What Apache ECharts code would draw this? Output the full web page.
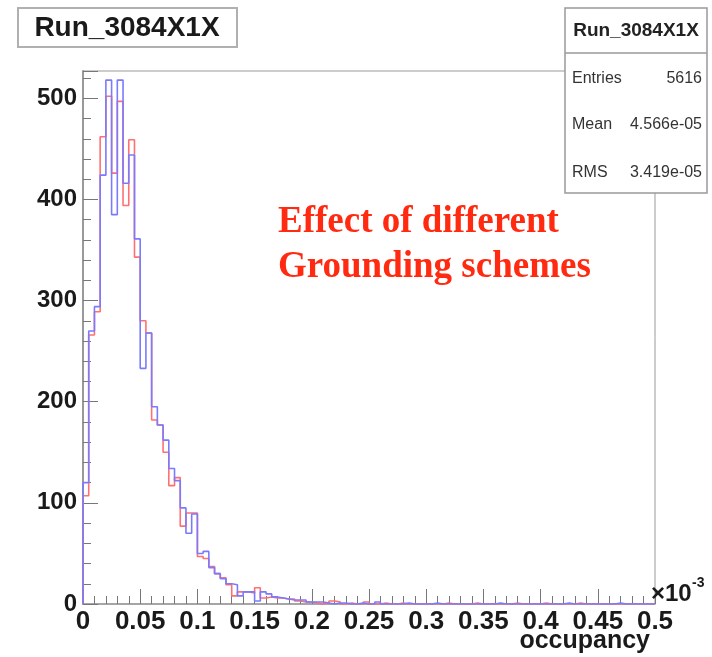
<!DOCTYPE html>
<html>
<head>
<meta charset="utf-8">
<script src="https://cdn.jsdelivr.net/npm/echarts@6/dist/echarts.min.js"></script>
<style>
  html, body { margin: 0; padding: 0; background: #fff; }
  #main { width: 712px; height: 657px; }
</style>
</head>
<body>
<div id="main"></div>
<script>
// occupancy histogram, 100 bins of 0.005 (x10^-3) from 0 to 0.5
var binWidth = 0.005;
var xTicks = [0, 0.05, 0.1, 0.15, 0.2, 0.25, 0.3, 0.35, 0.4, 0.45, 0.5];
var redCounts = [107, 266, 289, 462, 502, 426, 497, 394, 459, 343,
  280, 268, 182, 177, 150, 117, 125, 77, 90, 90,
  47, 45, 37, 30, 26, 19, 8, 12, 12, 11,
  16, 6, 7, 6, 6, 5, 5, 3, 2, 2,
  1, 0, 1, 3, 2, 0, 1, 0, 0, 2,
  0, 0, 1, 0, 0, 1, 0, 0, 0, 0,
  0, 0, 0, 1, 0, 0, 0, 0, 1, 0,
  0, 0, 0, 0, 0, 1, 0, 0, 0, 0,
  1, 0, 0, 0, 0, 0, 1, 0, 0, 0,
  0, 0, 0, 0, 0, 0, 0, 0, 0, 0];
var blueCounts = [120, 270, 294, 424, 518, 385, 518, 416, 444, 361,
  233, 268, 195, 177, 162, 134, 122, 95, 70, 89,
  50, 52, 36, 30, 25, 20, 19, 8, 12, 12,
  3, 12, 10, 7, 6, 5, 4, 4, 4, 2,
  2, 2, 1, 0, 1, 1, 0, 0, 1, 0,
  0, 2, 0, 0, 0, 0, 1, 0, 0, 0,
  0, 1, 0, 0, 0, 0, 0, 0, 0, 0,
  0, 0, 1, 0, 0, 0, 0, 0, 0, 0,
  0, 0, 0, 0, 1, 0, 0, 0, 0, 0,
  0, 0, 0, 1, 0, 0, 0, 0, 0, 0];
var statLabels = ['Entries', 'Mean', 'RMS'];
var statValues = ['5616', '4.566e-05', '3.419e-05'];

function toSteps(counts) {
  var pts = [[0, 0]];
  for (var i = 0; i < counts.length; i++) {
    pts.push([+(i * binWidth).toFixed(3), counts[i]]);
  }
  pts.push([xTicks[xTicks.length - 1], counts[counts.length - 1]]);
  return pts;
}

var chart = echarts.init(document.getElementById('main'));
var font = 'Liberation Sans, Arial, sans-serif';

var graphics = [
  // title box
  { type: 'rect', shape: { x: 18, y: 8, width: 219, height: 39 },
    style: { fill: '#fff', stroke: '#b0b0b0', lineWidth: 2 }, z: 10 },
  { type: 'text', x: 127, y: 28, z: 11,
    style: { text: 'Run_3084X1X', font: 'bold 28px ' + font, fill: '#1a1a1a', textAlign: 'center', textVerticalAlign: 'middle' } },
  // stats box
  { type: 'rect', shape: { x: 565, y: 8, width: 142, height: 185 },
    style: { fill: '#fff', stroke: '#999', lineWidth: 1.5 }, z: 10 },
  { type: 'line', shape: { x1: 565, y1: 53, x2: 707, y2: 53 },
    style: { stroke: '#999', lineWidth: 1.5 }, z: 11 },
  { type: 'text', x: 636, y: 31, z: 11,
    style: { text: 'Run_3084X1X', font: 'bold 19px ' + font, fill: '#222', textAlign: 'center', textVerticalAlign: 'middle' } },
  // annotation
  { type: 'text', x: 278, y: 200, z: 11,
    style: { text: 'Effect of different\nGrounding schemes', font: 'bold 37px Liberation Serif, Times New Roman, serif',
      fill: '#ff2a10', lineHeight: 45, textAlign: 'left', textVerticalAlign: 'top' } },
  // exponent label
  { type: 'text', x: 651, y: 594, z: 11,
    style: { text: '\u00d710', font: 'bold 24px ' + font, fill: '#1a1a1a', textAlign: 'left', textVerticalAlign: 'middle' } },
  { type: 'text', x: 692, y: 583, z: 11,
    style: { text: '-3', font: 'bold 14px ' + font, fill: '#1a1a1a', textAlign: 'left', textVerticalAlign: 'middle' } },
  // axis title
  { type: 'text', x: 650, y: 641, z: 11,
    style: { text: 'occupancy', font: 'bold 25px ' + font, fill: '#1a1a1a', textAlign: 'right', textVerticalAlign: 'middle' } }
];
var statY = [79, 125, 173];
statLabels.forEach(function (l, i) {
  graphics.push({ type: 'text', x: 572, y: statY[i], z: 11,
    style: { text: l, font: '16px ' + font, fill: '#333', textAlign: 'left', textVerticalAlign: 'middle' } });
  graphics.push({ type: 'text', x: 702, y: statY[i], z: 11,
    style: { text: statValues[i], font: '16px ' + font, fill: '#333', textAlign: 'right', textVerticalAlign: 'middle' } });
});

var option = {
  animation: false,
  backgroundColor: '#fff',
  grid: { left: 83, top: 71, width: 572, height: 533, show: true, borderColor: '#999', borderWidth: 1, backgroundColor: 'transparent' },
  xAxis: {
    type: 'value', min: 0, max: 0.5, interval: 0.05,
    axisLine: { show: true, lineStyle: { color: '#999', width: 1.5 } },
    axisTick: { show: true, inside: true, length: 15, lineStyle: { color: '#777' } },
    minorTick: { show: true, splitNumber: 5, length: 8, lineStyle: { color: '#777' } },
    splitLine: { show: false },
    axisLabel: { fontSize: 26, fontWeight: 'bold', color: '#1a1a1a', fontFamily: font, margin: 5,
      formatter: function (v) { return String(+v.toFixed(2)); } }
  },
  yAxis: [{
    type: 'value', min: 0, max: 527, interval: 100,
    axisLine: { show: true, lineStyle: { color: '#999', width: 2 } },
    axisTick: { show: true, inside: true, length: 15, lineStyle: { color: '#777' } },
    splitLine: { show: false },
    axisLabel: { fontSize: 24, fontWeight: 'bold', color: '#1a1a1a', fontFamily: font, margin: 6,
      formatter: function (v) { return v % 100 === 0 ? String(v) : ''; } }
  }, {
    type: 'value', min: 0, max: 527, interval: 20, position: 'left',
    axisLine: { show: false },
    axisTick: { show: true, inside: true, length: 8, lineStyle: { color: '#777' } },
    splitLine: { show: false },
    axisLabel: { show: false }
  }],
  series: [{
    type: 'line', step: 'end', symbol: 'none', data: toSteps(redCounts),
    lineStyle: { color: '#ff7070', width: 1.6 }, z: 3
  }, {
    type: 'line', step: 'end', symbol: 'none', data: toSteps(blueCounts),
    lineStyle: { color: '#7a7aff', width: 1.6 }, z: 4
  }],
  graphic: graphics
};
chart.setOption(option);
</script>
</body>
</html>
